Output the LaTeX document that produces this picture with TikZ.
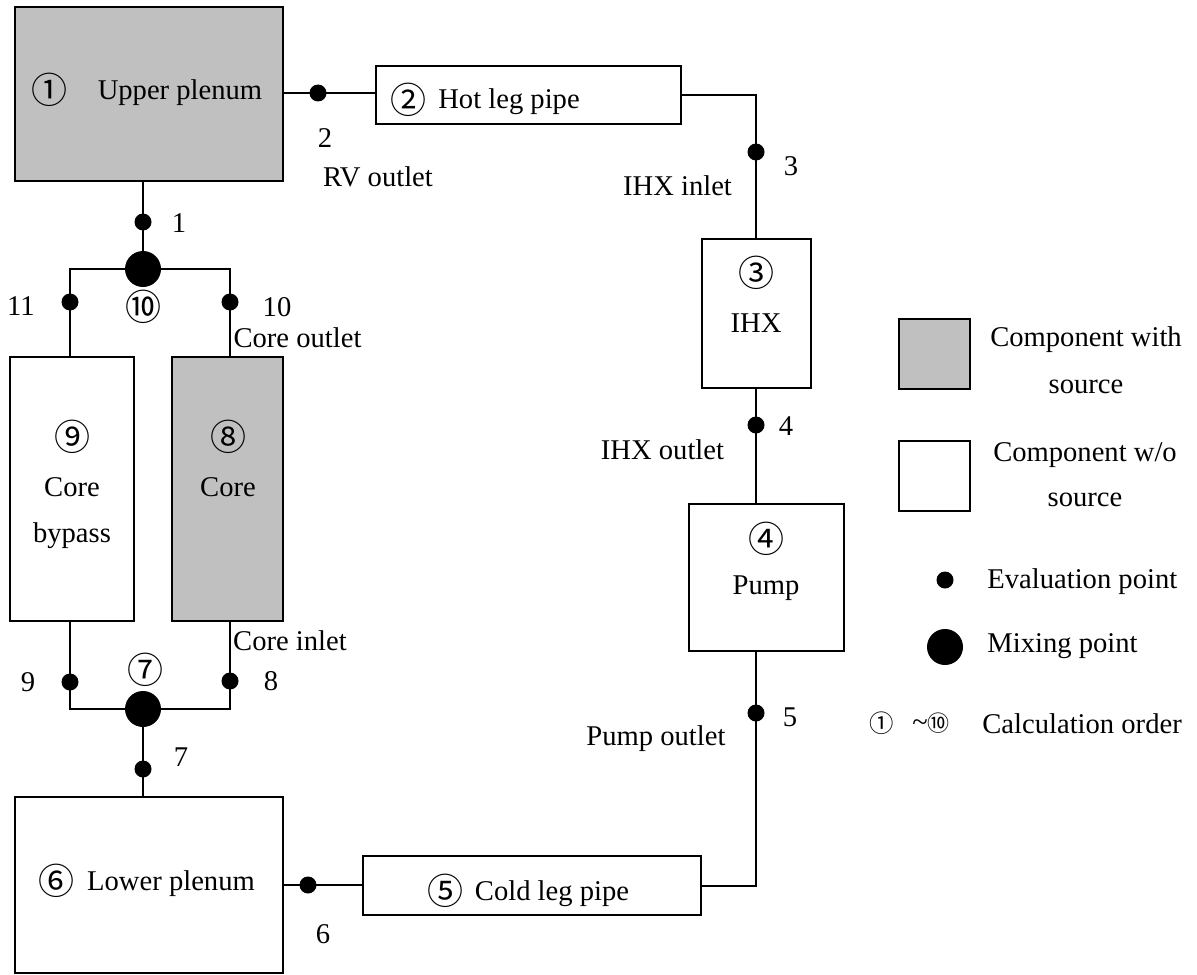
\documentclass[tikz,border=0pt]{standalone}
\usepackage{fontspec}
\setmainfont{Liberation Serif}
\newfontfamily\cjkf{Noto Sans CJK JP}
\newcommand{\cnum}[1]{{\fontsize{18pt}{20pt}\selectfont\cjkf #1}}
\definecolor{srcgray}{HTML}{C0C0C0}
\begin{document}
\begin{tikzpicture}[x=0.5pt,y=-0.5pt,
  font=\fontsize{14.3pt}{17pt}\selectfont,
  comp/.style={draw, line width=1pt, inner sep=0pt, rectangle, fill=white},
  src/.style={comp, fill=srcgray},
  evdot/.style={circle, fill=black, inner sep=0pt, minimum size=8.5pt},
  mixdot/.style={circle, fill=black, inner sep=0pt, minimum size=18pt},
  pipe/.style={line width=1pt},
  lbl/.style={inner sep=0pt}]
\useasboundingbox (0,0) rectangle (1197,974);

% components
\node[src,  minimum width=134pt,  minimum height=87pt]   (up)   at (149,94) {};
\node[comp, minimum width=152.5pt,minimum height=29pt]   (hot)  at (528.5,95) {};
\node[comp, minimum width=54.5pt, minimum height=74.5pt] (ihx)  at (756.5,313.5) {};
\node[comp, minimum width=77.5pt, minimum height=73.5pt] (pump) at (766.5,577.5) {};
\node[comp, minimum width=169pt,  minimum height=29.5pt] (cold) at (532,885.5) {};
\node[comp, minimum width=134pt,  minimum height=88pt]   (low)  at (149,885) {};
\node[comp, minimum width=62pt,   minimum height=132pt]  (byp)  at (72,489) {};
\node[src,  minimum width=55.5pt, minimum height=132pt]  (core) at (227.5,489) {};

% evaluation and mixing points
\node[evdot] (e1)  at (143,222) {};
\node[evdot] (e2)  at (318,93) {};
\node[evdot] (e3)  at (756,152) {};
\node[evdot] (e4)  at (756,425) {};
\node[evdot] (e5)  at (756,713) {};
\node[evdot] (e6)  at (308,885) {};
\node[evdot] (e7)  at (143,769) {};
\node[evdot] (e8)  at (230,681) {};
\node[evdot] (e9)  at (70,682) {};
\node[evdot] (e10) at (230,302) {};
\node[evdot] (e11) at (70,302) {};
\node[mixdot] (m10) at (143,269) {};
\node[mixdot] (m7)  at (143,709) {};

% connectors
\draw[pipe] (e1 |- up.south) -- (e1.center) -- (m10.center);
\draw[pipe] (e11 |- byp.north) -- (e11.center) |- (m10.center) -| (e10.center) -- (e10 |- core.north);
\draw[pipe] (e9 |- byp.south) -- (e9.center) |- (m7.center) -| (e8.center) -- (e8 |- core.south);
\draw[pipe] (m7.center) -- (e7.center) -- (e7 |- low.north);
\draw[pipe] (low.east |- e6) -- (e6.center) -- (cold.west |- e6);
\draw[pipe] (cold.east) -| (e5.center) -- (e5 |- pump.south);
\draw[pipe] (e4 |- pump.north) -- (e4.center) -- (e4 |- ihx.south);
\draw[pipe] (e3 |- ihx.north) -- (e3.center) |- (hot.east);
\draw[pipe] (up.east |- e2) -- (e2.center) -- (hot.west |- e2);

% component texts
\node[lbl] (t1n) at (49,90) {\cnum{①}};
\node[lbl] (t1)  at (180,93) {Upper plenum};
\node[lbl] (t2n) at (408,100) {\cnum{②}};
\node[lbl] (t2)  at (509,102) {Hot leg pipe};
\node[lbl] (t3n) at (756,273) {\cnum{③}};
\node[lbl] (t3)  at (756,323) {IHX};
\node[lbl] (t4n) at (766,539) {\cnum{④}};
\node[lbl] (t4)  at (766,588) {Pump};
\node[lbl] (t5n) at (445,891) {\cnum{⑤}};
\node[lbl] (t5)  at (552,894) {Cold leg pipe};
\node[lbl] (t6n) at (57,881) {\cnum{⑥}};
\node[lbl] (t6)  at (171,884) {Lower plenum};
\node[lbl] (t7n) at (145,670) {\cnum{⑦}};
\node[lbl] (t8n) at (228,437) {\cnum{⑧}};
\node[lbl] (t8)  at (228,487) {Core};
\node[lbl] (t9n) at (72,437) {\cnum{⑨}};
\node[lbl] (t9a) at (72,487) {Core};
\node[lbl] (t9b) at (72,536) {bypass};
\node[lbl] (t10n) at (143,307) {\cnum{⑩}};

% point labels
\node[lbl] (l1)  at (179,223) {1};
\node[lbl] (l2)  at (325,138) {2};
\node[lbl] (l2b) at (378,177) {RV outlet};
\node[lbl] (l3)  at (791,166) {3};
\node[lbl] (l3b) at (677.5,186) {IHX inlet};
\node[lbl] (l4)  at (786,426) {4};
\node[lbl] (l4b) at (662.5,450) {IHX outlet};
\node[lbl] (l5)  at (790,717) {5};
\node[lbl] (l5b) at (656,739) {Pump outlet};
\node[lbl] (l6)  at (323,934) {6};
\node[lbl] (l7)  at (181,757) {7};
\node[lbl] (l8)  at (271,681) {8};
\node[lbl] (l9)  at (28,682) {9};
\node[lbl] (l10) at (277,307) {10};
\node[lbl] (l10b) at (297.5,337.5) {Core outlet};
\node[lbl] (l11) at (21,306) {11};
\node[lbl] (l8b) at (290,641) {Core inlet};

% legend
\node[src,  minimum width=35.5pt, minimum height=35pt] (lg1) at (934.5,354) {};
\node[comp, minimum width=35.5pt, minimum height=35pt] (lg2) at (934.5,476) {};
\node[evdot]  (lg3) at (945,580) {};
\node[mixdot] (lg4) at (945,647) {};
\node[lbl] (lt1a) at (1086,340) {Component with};
\node[lbl] (lt1b) at (1086,386.5) {source};
\node[lbl] (lt2a) at (1085,455) {Component w/o};
\node[lbl] (lt2b) at (1085,500) {source};
\node[lbl, anchor=west] (lt3) at (987,581.5) {Evaluation point};
\node[lbl, anchor=west] (lt4) at (987,646) {Mixing point};
\node[lbl] (lt5n) at (882,723) {{\fontsize{12.2pt}{14pt}\selectfont\cjkf ①}};
\node[lbl] (lt5t) at (931,723) {\textasciitilde{\fontsize{11pt}{14pt}\selectfont\cjkf ⑩}};
\node[lbl, anchor=west] (lt5) at (982,724) {Calculation order};
\end{tikzpicture}
\end{document}
